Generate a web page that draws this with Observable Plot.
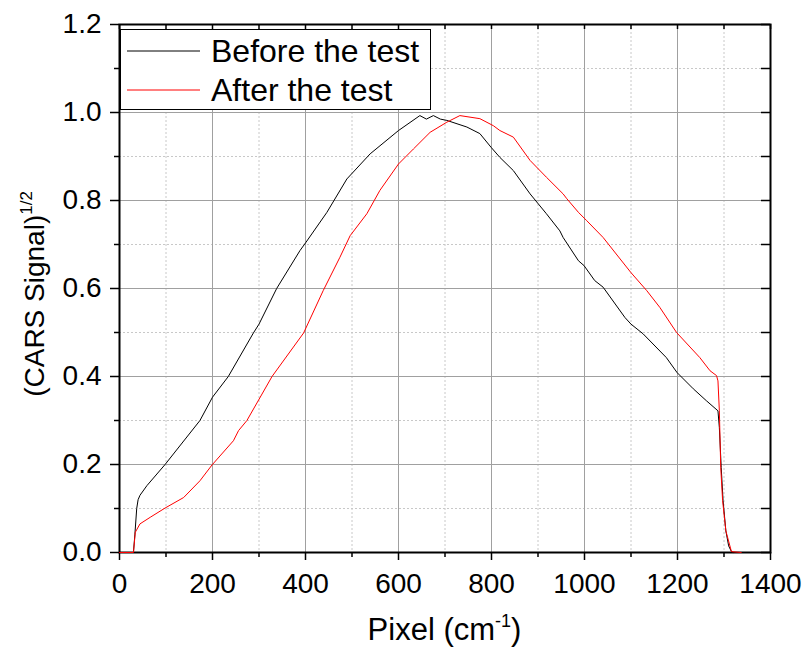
<!DOCTYPE html>
<html>
<head>
<meta charset="utf-8">
<script src="https://cdn.jsdelivr.net/npm/d3@7"></script>
<script src="https://cdn.jsdelivr.net/npm/@observablehq/plot@0.6"></script>
<style>
  html, body { margin: 0; padding: 0; background: white; }
  #chart svg { display: block; }
</style>
</head>
<body>
<div id="chart"></div>
<script>
// ---- Data ----
const seriesNames = ["Before the test", "After the test"];
const seriesColors = ["#000000", "#ff0000"];

const pixelBefore = [0,30,33,37,40,44,59,98,173,200,234,288,300,338,388,401,446,489,539,600,646,660,675,690,704,747,775,799,818,847,883,918,947,954,987,999,1022,1040,1087,1100,1126,1176,1199,1234,1262,1287,1290,1294,1298,1304,1310,1316,1320];
const signalBefore = [0,0,0.04,0.10,0.12,0.13,0.152,0.2,0.30,0.353,0.40,0.499,0.519,0.600,0.686,0.705,0.773,0.849,0.906,0.959,0.993,0.985,0.993,0.985,0.982,0.967,0.952,0.921,0.898,0.868,0.815,0.770,0.731,0.716,0.663,0.652,0.618,0.603,0.534,0.519,0.497,0.443,0.409,0.372,0.345,0.322,0.284,0.193,0.118,0.049,0.015,0.002,0];

const pixelAfter = [0,30,34,44,66,98,138,173,199,245,256,274,328,396,438,474,496,532,560,600,632,668,704,732,775,804,818,847,883,918,954,962,987,1004,1040,1100,1134,1162,1198,1248,1270,1284,1287,1290,1293,1297,1304,1316,1337];
const signalAfter = [0,0,0.046,0.065,0.080,0.101,0.125,0.163,0.199,0.254,0.277,0.300,0.40,0.499,0.595,0.671,0.720,0.770,0.823,0.883,0.917,0.955,0.978,0.993,0.986,0.970,0.959,0.944,0.891,0.853,0.815,0.804,0.773,0.755,0.716,0.636,0.595,0.557,0.50,0.443,0.413,0.402,0.39,0.322,0.193,0.118,0.049,0.002,0];

const xMajorTicks = [0,200,400,600,800,1000,1200,1400];
const xMinorTicks = [100,300,500,700,900,1100,1300];
const yMajorTicks = [0,0.2,0.4,0.6,0.8,1.0,1.2];
const yMinorTicks = [0.1,0.3,0.5,0.7,0.9,1.1];

const xTitle = "Pixel (cm";
const xTitleSup = "-1";
const yTitle = "(CARS Signal)";
const yTitleSup = "1/2";

// ---- Build tables ----
const before = pixelBefore.map((p, i) => ({x: p, y: signalBefore[i]}));
const after = pixelAfter.map((p, i) => ({x: p, y: signalAfter[i]}));
const allX = [...xMajorTicks, ...xMinorTicks].sort((a,b)=>a-b);
const allY = [...yMajorTicks, ...yMinorTicks].sort((a,b)=>a-b);

const W = 809, H = 648;
const mL = 119, mR = 39, mT = 24, mB = 96;
const font = "'Liberation Sans', Arial, sans-serif";
const none = () => "";

const plot = Plot.plot({
  width: W, height: H,
  marginLeft: mL, marginRight: mR, marginTop: mT, marginBottom: mB,
  x: {domain: [0, 1400]},
  y: {domain: [0, 1.2]},
  style: {fontFamily: font, fontSize: "28px", color: "black", background: "white"},
  marks: [
    Plot.gridX(xMinorTicks, {stroke: "#c8c8c8", strokeOpacity: 1, strokeDasharray: "2,2"}),
    Plot.gridY(yMinorTicks, {stroke: "#c8c8c8", strokeOpacity: 1, strokeDasharray: "2,2"}),
    Plot.gridX(xMajorTicks.slice(1, -1), {stroke: "#a0a0a0", strokeOpacity: 1}),
    Plot.gridY(yMajorTicks.slice(1, -1), {stroke: "#a0a0a0", strokeOpacity: 1}),
    Plot.frame({stroke: "black", strokeWidth: 2}),
    Plot.axisX(xMajorTicks, {anchor: "bottom", tickSize: 8, tickPadding: 13, strokeWidth: 1.5, fontSize: 28, tickFormat: d3.format("d"), label: null}),
    Plot.axisX(xMinorTicks, {anchor: "bottom", tickSize: 5, strokeWidth: 1.5, tickFormat: none, label: null}),
    Plot.axisX(allX, {anchor: "bottom", frameAnchor: "top", tickSize: 5, strokeWidth: 1.5, tickFormat: none, label: null}),
    Plot.axisY(yMajorTicks, {anchor: "left", tickSize: 9, tickPadding: 9, strokeWidth: 1.5, fontSize: 28, tickFormat: d3.format(".1f"), label: null}),
    Plot.axisY(yMinorTicks, {anchor: "left", tickSize: 5, strokeWidth: 1.5, tickFormat: none, label: null}),
    Plot.axisY(allY, {anchor: "left", frameAnchor: "right", tickSize: 9, strokeWidth: 1.5, tickFormat: none, label: null}),
    Plot.line(before, {x: "x", y: "y", stroke: seriesColors[0], strokeWidth: 1}),
    Plot.line(after, {x: "x", y: "y", stroke: seriesColors[1], strokeWidth: 1})
  ]
});

document.getElementById("chart").appendChild(plot);

// ---- Axis titles and legend as real SVG text ----
const svg = d3.select(plot);
const cx = mL + (W - mL - mR) / 2;
const cy = mT + (H - mT - mB) / 2;

const xt = svg.append("text")
  .attr("x", cx).attr("y", 640)
  .attr("text-anchor", "middle")
  .style("font-family", font).style("font-size", "31px").attr("fill", "black");
xt.append("tspan").text(xTitle);
xt.append("tspan").attr("dy", -13).style("font-size", "18px").text(xTitleSup);
xt.append("tspan").attr("dy", 13).text(")");

const yt = svg.append("text")
  .attr("transform", `translate(44,${cy + 6}) rotate(-90)`)
  .attr("text-anchor", "middle")
  .style("font-family", font).style("font-size", "28px").attr("fill", "black");
yt.append("tspan").text(yTitle);
yt.append("tspan").attr("dy", -12).style("font-size", "17px").text(yTitleSup);

const lg = svg.append("g");
lg.append("rect").attr("x", 120.5).attr("y", 29.5).attr("width", 310).attr("height", 80)
  .attr("fill", "white").attr("stroke", "black").attr("stroke-width", 1);
const rowY = [51, 90];
seriesNames.forEach((name, i) => {
  lg.append("line").attr("x1", 127).attr("x2", 200).attr("y1", rowY[i]).attr("y2", rowY[i])
    .attr("stroke", seriesColors[i]).attr("stroke-width", 1);
  lg.append("text").attr("x", 211).attr("y", rowY[i] + 11)
    .attr("text-anchor", "start")
    .style("font-family", font).style("font-size", "32px").attr("fill", "black").text(name);
});
</script>
</body>
</html>
